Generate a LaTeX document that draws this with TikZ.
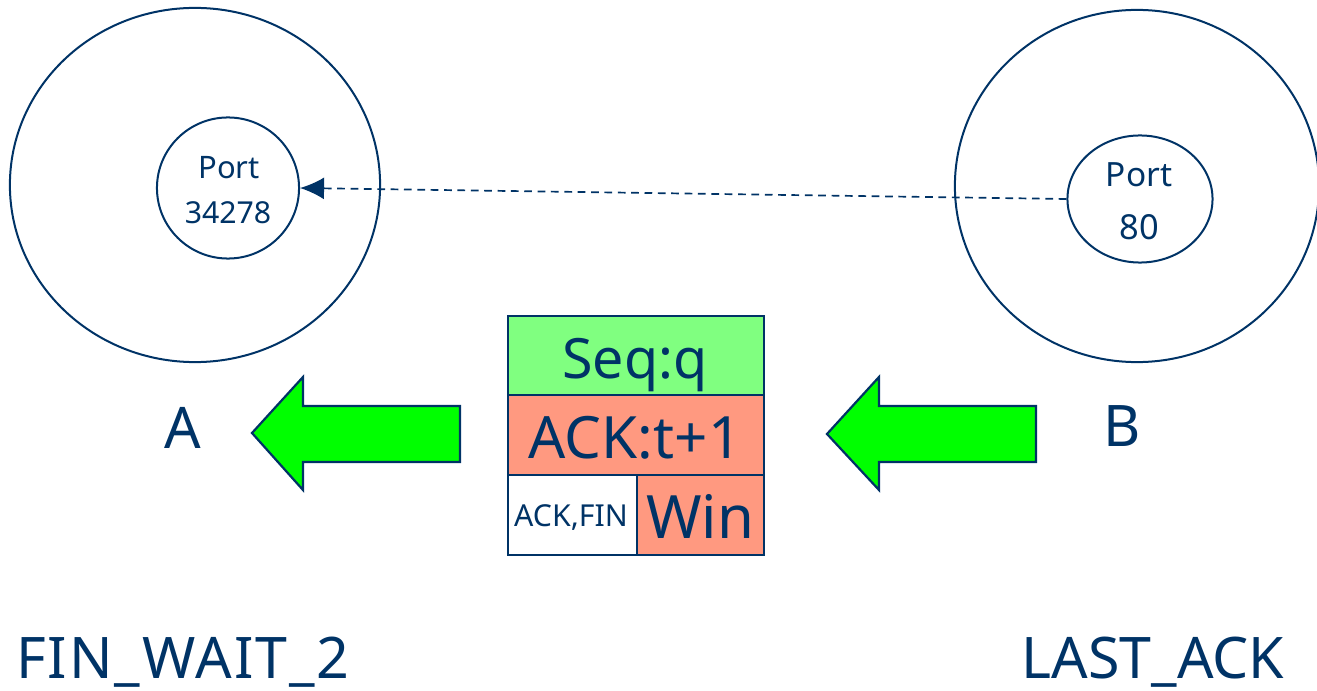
\documentclass[tikz,border=0pt]{standalone}
\usepackage{fontspec}
\setmainfont{Noto Sans}
\usetikzlibrary{shapes.geometric,arrows.meta}
\definecolor{navy}{RGB}{0,51,102}
\definecolor{seqgreen}{RGB}{128,255,128}
\definecolor{salmon}{RGB}{255,153,128}
\definecolor{arrowgreen}{RGB}{0,255,0}
\tikzset{
  host/.style={draw=navy, line width=0.2mm, ellipse, inner sep=0pt},
  port/.style={draw=navy, line width=0.2mm, ellipse, inner sep=0pt, text=navy, align=center},
  field/.style={draw=navy, line width=0.2mm, rectangle, inner sep=0pt, text=navy, anchor=north west},
  label/.style={text=navy, inner sep=0pt, anchor=base},
  bigarrow/.style={draw=navy, line width=0.22mm, fill=arrowgreen, line join=miter},
}
\begin{document}
\begin{tikzpicture}[x=0.01cm, y=-0.01cm]
\useasboundingbox (0,0) rectangle (1317,691);
% hosts
\node[host, minimum width=3.70cm, minimum height=3.54cm] (hostA) at (195,185) {};
\node[host, minimum width=3.64cm, minimum height=3.52cm] (hostB) at (1137,186) {};
% ports
\node[port, minimum width=1.42cm, minimum height=1.41cm] (portA) at (228,188) {};
\node[label, font=\fontsize{8.8pt}{11pt}\selectfont] (portAt1) at (229,179) {Port};
\node[label, font=\fontsize{8.6pt}{11pt}\selectfont] (portAt2) at (228,224) {34278};
\node[port, minimum width=1.45cm, minimum height=1.27cm] (portB) at (1140,199) {};
\node[label, font=\fontsize{9.5pt}{12pt}\selectfont] (portBt1) at (1139,187) {Port};
\node[label, font=\fontsize{9.8pt}{12pt}\selectfont] (portBt2) at (1139,240) {80};
% dashed connector
\draw[navy, line width=0.17mm, dash pattern=on 2.2pt off 1.6pt, -{Latex[length=2.4mm,width=2.2mm]}]
  (portB.west) -- (portA.east);
% packet
\node[field, fill=seqgreen, minimum width=2.56cm, minimum height=0.79cm] (seq) at (507,315) {};
\node[field, fill=salmon, minimum width=2.56cm, minimum height=0.80cm] (ack) at (507,394) {};
\node[field, fill=white, minimum width=1.29cm, minimum height=0.80cm] (flags) at (507,474) {};
\node[field, fill=salmon, minimum width=1.27cm, minimum height=0.80cm] (win) at (636,474) {};
\node[label, font=\fontsize{15.8pt}{18pt}\selectfont] (seqt) at (635,379) {Seq:q};
\node[label, font=\fontsize{16.6pt}{19pt}\selectfont] (ackt) at (635,459) {ACK:t+1};
\node[label, font=\fontsize{8.6pt}{10pt}\selectfont] (flagst) at (571,527) {ACK,FIN};
\node[label, font=\fontsize{17pt}{20pt}\selectfont] (wint) at (700,539) {Win};
% big arrows
\draw[bigarrow] (252,433) -- (303,377) -- (303,406) -- (460,406) -- (460,462) -- (303,462) -- (303,490) -- cycle;
\draw[bigarrow] (827,434) -- (879,377) -- (879,406) -- (1036,406) -- (1036,462) -- (879,462) -- (879,490) -- cycle;
% labels
\node[label, font=\fontsize{16.3pt}{19pt}\selectfont] (lA) at (183,449) {A};
\node[label, font=\fontsize{16.3pt}{19pt}\selectfont] (lB) at (1122,447) {B};
\node[label, font=\fontsize{16.3pt}{19pt}\selectfont\addfontfeature{LetterSpace=3.5}] (stA) at (183,679) {FIN\_WAIT\_2};
\node[label, font=\fontsize{16.3pt}{19pt}\selectfont] (stB) at (1153,679) {LAST\_ACK};
\end{tikzpicture}
\end{document}
